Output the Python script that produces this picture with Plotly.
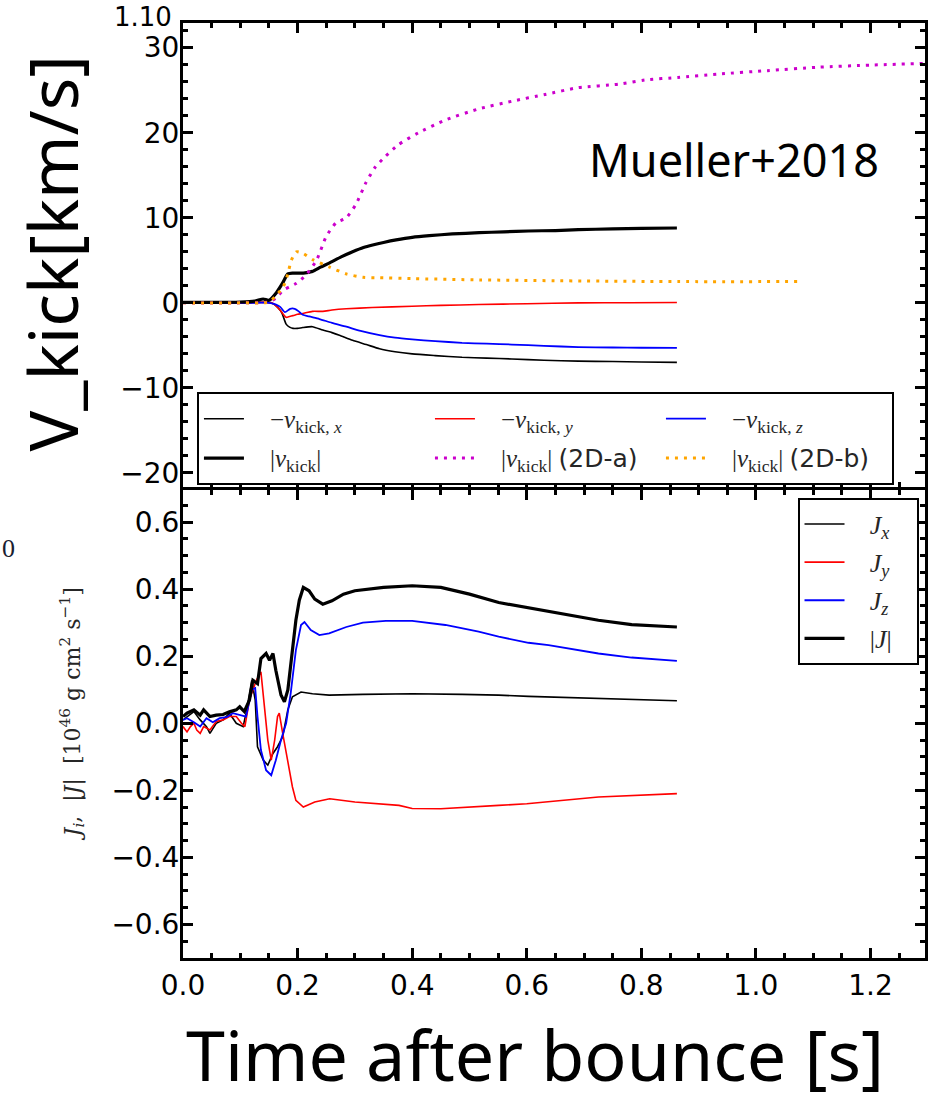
import plotly.graph_objects as go

# ---------------- kick velocity (top panel) ----------------
t_vabs = [0.0, 0.05, 0.10, 0.125, 0.14, 0.15, 0.163, 0.174, 0.183, 0.192, 0.21, 0.226,
          0.24, 0.256, 0.276, 0.296, 0.315, 0.331, 0.35, 0.372, 0.40, 0.43, 0.47, 0.517,
          0.56, 0.603, 0.65, 0.69, 0.75, 0.80, 0.862]
v_abs = [0.05, 0.05, 0.1, 0.2, 0.45, 0.3, 1.2, 2.35, 3.4, 3.5, 3.5, 3.7,
         4.2, 4.7, 5.4, 6.0, 6.5, 6.8, 7.1, 7.4, 7.7, 7.9, 8.1, 8.25,
         8.35, 8.45, 8.5, 8.6, 8.7, 8.75, 8.8]

t_vx = [0.0, 0.10, 0.15, 0.16, 0.172, 0.18, 0.186, 0.192, 0.20, 0.209, 0.226, 0.244,
        0.26, 0.273, 0.296, 0.32, 0.343, 0.37, 0.40, 0.44, 0.487, 0.53, 0.574, 0.63,
        0.69, 0.75, 0.80, 0.862]
v_x = [0.0, 0.0, 0.05, -0.2, -1.1, -2.5, -2.85, -3.0, -3.0, -2.9, -2.8, -3.2,
       -3.5, -3.8, -4.4, -4.9, -5.4, -5.75, -6.0, -6.2, -6.4, -6.5, -6.6, -6.75,
       -6.85, -6.9, -6.95, -7.0]

t_vy = [0.0, 0.10, 0.155, 0.163, 0.17, 0.18, 0.186, 0.192, 0.20, 0.209, 0.226, 0.244,
        0.26, 0.285, 0.33, 0.40, 0.45, 0.516, 0.60, 0.69, 0.78, 0.862]
v_y = [0.0, 0.0, 0.0, -0.4, -0.9, -1.7, -1.6, -1.5, -1.35, -1.25, -1.0, -1.0,
       -0.85, -0.7, -0.55, -0.4, -0.3, -0.2, -0.1, 0.0, 0.02, 0.05]

t_vz = [0.0, 0.10, 0.15, 0.157, 0.165, 0.17, 0.178, 0.187, 0.195, 0.202, 0.209, 0.22,
        0.238, 0.26, 0.285, 0.31, 0.343, 0.37, 0.40, 0.44, 0.487, 0.53, 0.574, 0.63,
        0.69, 0.75, 0.80, 0.862]
v_z = [0.0, 0.0, 0.0, -0.1, -0.3, -0.5, -1.1, -0.7, -0.7, -1.0, -1.4, -1.6,
       -1.9, -2.35, -2.8, -3.3, -3.8, -4.1, -4.3, -4.5, -4.7, -4.8, -4.9, -5.05,
       -5.2, -5.25, -5.28, -5.3]

t_2da = [0.0, 0.10, 0.15, 0.163, 0.175, 0.186, 0.198, 0.215, 0.233, 0.25, 0.267, 0.285,
         0.302, 0.319, 0.336, 0.353, 0.376, 0.411, 0.458, 0.516, 0.574, 0.632, 0.69,
         0.76, 0.806, 0.864, 0.934, 1.02, 1.108, 1.20, 1.295]
v_2da = [0.0, 0.0, 0.1, 0.6, 1.5, 1.9, 2.3, 3.3, 5.0, 7.8, 9.4, 10.0,
         11.6, 14.1, 16.0, 17.2, 18.6, 20.0, 21.5, 22.8, 23.7, 24.5, 25.3,
         25.7, 26.2, 26.5, 26.9, 27.3, 27.7, 27.95, 28.15]

t_2db = [0.0, 0.10, 0.15, 0.163, 0.175, 0.183, 0.189, 0.198, 0.21, 0.226, 0.256, 0.285,
         0.314, 0.343, 0.40, 0.517, 0.65, 0.864, 1.08]
v_2db = [0.0, 0.0, 0.1, 0.9, 1.9, 3.4, 5.0, 6.0, 5.8, 5.1, 4.2, 3.4,
         3.0, 2.95, 2.85, 2.7, 2.6, 2.5, 2.5]

# ---------------- angular momentum (bottom panel) ----------------
t_jabs = [0.0, 0.007, 0.019, 0.03, 0.036, 0.047, 0.058, 0.07, 0.081, 0.093, 0.099, 0.107,
          0.116, 0.122, 0.13, 0.136, 0.145, 0.151, 0.157, 0.162, 0.171, 0.177, 0.183,
          0.191, 0.197, 0.203, 0.21, 0.22, 0.23, 0.244, 0.26, 0.28, 0.30, 0.35, 0.40,
          0.45, 0.50, 0.551, 0.60, 0.638, 0.70, 0.725, 0.783, 0.862]
j_abs = [0.02, 0.03, 0.04, 0.024, 0.04, 0.02, 0.024, 0.026, 0.034, 0.04, 0.049, 0.035,
         0.069, 0.128, 0.118, 0.193, 0.208, 0.188, 0.208, 0.158, 0.084, 0.064, 0.099,
         0.218, 0.307, 0.367, 0.405, 0.395, 0.37, 0.355, 0.365, 0.385, 0.395, 0.405, 0.41,
         0.405, 0.385, 0.36, 0.345, 0.332, 0.315, 0.307, 0.294, 0.287]

t_jx = [0.0, 0.007, 0.019, 0.03, 0.041, 0.047, 0.058, 0.07, 0.081, 0.093, 0.10, 0.105,
        0.11, 0.12, 0.126, 0.13, 0.14, 0.148, 0.157, 0.165, 0.174, 0.183, 0.191, 0.206,
        0.226, 0.255, 0.314, 0.40, 0.487, 0.551, 0.603, 0.70, 0.862]
j_x = [0.01, 0.02, 0.035, 0.01, -0.01, -0.03, 0.0, 0.01, 0.03, 0.0, -0.005, -0.01,
       0.03, 0.128, 0.07, -0.07, -0.11, -0.125, -0.09, -0.07, -0.04, 0.04, 0.079, 0.093,
       0.088, 0.084, 0.086, 0.088, 0.086, 0.084, 0.08, 0.075, 0.067]

t_jy = [0.0, 0.007, 0.013, 0.019, 0.024, 0.03, 0.036, 0.047, 0.058, 0.07, 0.081, 0.093,
        0.102, 0.108, 0.116, 0.128, 0.136, 0.141, 0.148, 0.154, 0.16, 0.165, 0.168, 0.174,
        0.183, 0.191, 0.197, 0.21, 0.23, 0.256, 0.30, 0.377, 0.40, 0.45, 0.551, 0.60,
        0.725, 0.862]
j_y = [-0.01, -0.026, -0.01, 0.0, -0.02, -0.03, -0.01, -0.02, 0.005, 0.01, 0.02, 0.02,
       0.0, -0.01, 0.07, 0.128, 0.153, 0.07, -0.05, -0.11, -0.05, 0.02, 0.03, -0.03,
       -0.11, -0.19, -0.23, -0.25, -0.235, -0.225, -0.235, -0.245, -0.254, -0.255, -0.245, -0.24,
       -0.22, -0.21]

t_jz = [0.0, 0.007, 0.019, 0.03, 0.041, 0.052, 0.064, 0.076, 0.087, 0.099, 0.11, 0.12,
        0.126, 0.13, 0.136, 0.145, 0.154, 0.162, 0.171, 0.18, 0.188, 0.197, 0.206, 0.212,
        0.223, 0.238, 0.255, 0.285, 0.314, 0.354, 0.40, 0.458, 0.516, 0.551, 0.603, 0.638,
        0.70, 0.725, 0.783, 0.862]
j_z = [0.01, 0.015, 0.003, -0.01, 0.015, 0.003, 0.015, 0.018, 0.03, 0.025, 0.02, 0.10,
       0.105, 0.02, -0.08, -0.14, -0.155, -0.11, -0.05, 0.0, 0.09, 0.218, 0.293, 0.302,
       0.278, 0.263, 0.268, 0.287, 0.30, 0.305, 0.305, 0.293, 0.273, 0.258, 0.24, 0.233,
       0.215, 0.208, 0.196, 0.186]

# axis ranges
x_range = [0.0, 1.295]
v_range = [-21.59, 32.9]
j_range = [-0.70, 0.697]

# page geometry of the plotting area (pixels)
W_PAGE, H_PAGE = 932, 1104
L, R, T, B = 183, 928, 23, 958
TOP_BOTTOM, LOW_TOP = 486.5, 489.5   # panel edges; both frame lines meet at y = 488


def px(xp):
    return (xp - L) / (R - L)


def py(yp):
    return (B - yp) / (B - T)


SERIF = "Liberation Serif"
SANS = "DejaVu Sans"
TXT = "#262626"

fig = go.Figure()


def line(x, y, color, width, name, xa, ya, legend, dash=None, shape="spline"):
    fig.add_trace(go.Scatter(
        x=x, y=y, mode="lines", name=name, xaxis=xa, yaxis=ya, legend=legend,
        line=dict(color=color, width=width, dash=dash, shape=shape,
                  smoothing=0.6 if shape == "spline" else None),
    ))


def lab(s, size, shift):
    # legend label at its own size, row height set by the legend font
    return ("&nbsp;&nbsp;&nbsp;<span style='font-size:%dpx;baseline-shift:%dpx'>%s</span>"
            % (size, shift, s))


sub = lambda s: "<sub>" + s + "</sub>"
vk = "<i>v</i>" + sub("kick")
dj = "<span style='font-family:DejaVu Sans'>%s</span>"

vl = lambda s: lab(s, 25, 2)
line(t_vx, v_x, "black", 1.6, vl("−<i>v</i>" + sub("kick, <i>x</i>")), "x", "y", "legend")
line(t_vy, v_y, "#ff0000", 1.6, vl("−<i>v</i>" + sub("kick, <i>y</i>")), "x", "y", "legend")
line(t_vz, v_z, "#0000ff", 1.8, vl("−<i>v</i>" + sub("kick, <i>z</i>")), "x", "y", "legend")
line(t_vabs, v_abs, "black", 3.2, vl("|" + vk + "|"), "x", "y", "legend")
line(t_2da, v_2da, "#cc00cc", 3, vl("|" + vk + "| " + dj % "(2D-a)"),
     "x", "y", "legend", dash="3px,6px")
line(t_2db, v_2db, "#ffa500", 3, vl("|" + vk + "| " + dj % "(2D-b)"),
     "x", "y", "legend", dash="3px,6px")

jl = lambda s: lab(s + "&nbsp;&nbsp;&nbsp;", 26, 1)
line(t_jx, j_x, "black", 1.6, jl("<i>J<sub>x</sub></i>"), "x2", "y2", "legend2", shape="linear")
line(t_jy, j_y, "#ff0000", 1.6, jl("<i>J<sub>y</sub></i>"), "x2", "y2", "legend2", shape="linear")
line(t_jz, j_z, "#0000ff", 1.8, jl("<i>J<sub>z</sub></i>"), "x2", "y2", "legend2", shape="linear")
line(t_jabs, j_abs, "black", 3.2, jl("|<i>J</i>|"), "x2", "y2", "legend2", shape="linear")

tickfont = dict(family=SANS, size=28, color="black")
minor_ticks = dict(ticks="inside", ticklen=5, tickwidth=3, tickcolor="black")
axis_common = dict(showline=True, linecolor="black", linewidth=3, mirror="ticks",
                   ticks="inside", ticklen=10, tickwidth=3, tickcolor="black",
                   showgrid=False, zeroline=False, tickfont=tickfont)

fig.update_layout(
    width=W_PAGE, height=H_PAGE,
    margin=dict(l=L, r=W_PAGE - R, t=T, b=H_PAGE - B, pad=0),
    paper_bgcolor="white", plot_bgcolor="white",
    showlegend=True,
    xaxis=dict(axis_common, domain=[0, 1], anchor="y", range=x_range, matches="x2",
               showticklabels=False, tick0=0, dtick=0.2,
               minor=dict(minor_ticks, dtick=0.05)),
    yaxis=dict(axis_common, domain=[py(TOP_BOTTOM), 1], anchor="x", range=v_range,
               tick0=0, dtick=10, ticklabelstandoff=-5,
               minor=dict(minor_ticks, dtick=2)),
    xaxis2=dict(axis_common, domain=[0, 1], anchor="y2", range=x_range,
                tick0=0, dtick=0.2, tickformat=".1f", ticklabelstandoff=0,
                minor=dict(minor_ticks, dtick=0.05)),
    yaxis2=dict(axis_common, domain=[0, py(LOW_TOP)], anchor="x2", range=j_range,
                tick0=0, dtick=0.2, tickformat=".1f", ticklabelstandoff=-5,
                minor=dict(minor_ticks, dtick=0.05)),
    legend=dict(orientation="h", x=px(197), y=py(392), xanchor="left", yanchor="top",
                bgcolor="white", bordercolor="black", borderwidth=2,
                entrywidth=176, entrywidthmode="pixels",
                font=dict(family=SERIF, size=28, color=TXT), itemwidth=40),
    legend2=dict(orientation="v", x=px(800), y=py(498), xanchor="left", yanchor="top",
                 bgcolor="white", bordercolor="black", borderwidth=2,
                 font=dict(family=SERIF, size=27, color=TXT), itemwidth=40),
)

annots = [
    dict(text="V_kick[km/s]", x=px(50), y=py(254), textangle=-90,
         font=dict(family="Noto Sans", size=68, color="black")),
    dict(text="Time after bounce [s]", x=px(536), y=py(1104), yanchor="bottom",
         font=dict(family="Noto Sans", size=70, color="black")),
    dict(text="Mueller+2018", x=px(736), y=py(160),
         font=dict(family="Noto Sans", size=45, color="black")),
    dict(text="<i>J<sub>i</sub></i>,&nbsp;&nbsp;|<i>J</i>|&nbsp;&nbsp;[10<sup>46</sup>&nbsp;g&nbsp;cm<sup>2</sup>&nbsp;s<sup>−1</sup>]",
         x=px(72), y=py(714), textangle=-90,
         font=dict(family="DejaVu Serif", size=22, color=TXT)),
    dict(text="1.10", x=px(174), y=py(17), xanchor="right",
         font=dict(family=SANS, size=26, color="black")),
    dict(text="0", x=px(8), y=py(548),
         font=dict(family=SERIF, size=26, color="#1a2030")),
]
for a in annots:
    a.setdefault("xanchor", "center")
    a.setdefault("yanchor", "middle")
    fig.add_annotation(xref="paper", yref="paper", showarrow=False, **a)

fig.write_html("out.html")
